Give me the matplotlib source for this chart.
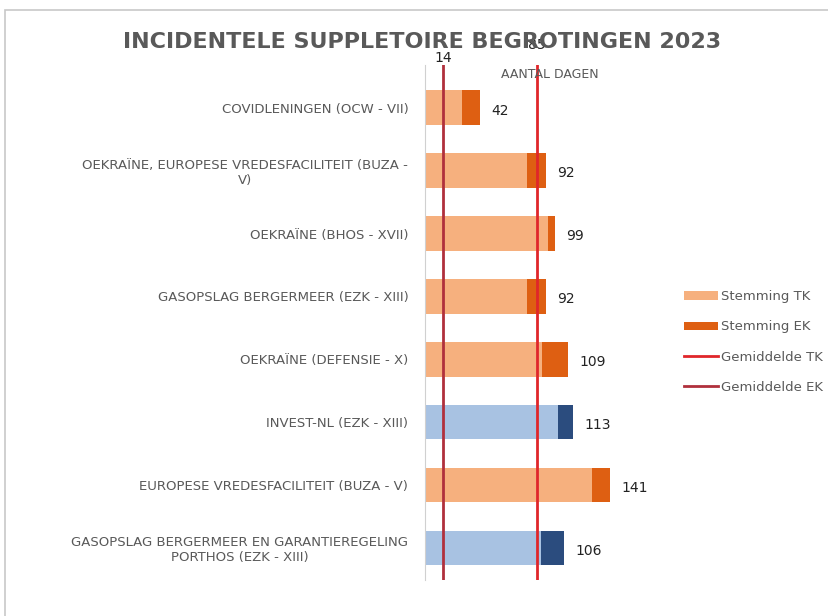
import matplotlib
matplotlib.use("Agg")
import matplotlib.pyplot as plt
from matplotlib.patches import Patch, Rectangle
from matplotlib.lines import Line2D

categories = [
    "COVIDLENINGEN (OCW - VII)",
    "OEKRAÏNE, EUROPESE VREDESFACILITEIT (BUZA -\nV)",
    "OEKRAÏNE (BHOS - XVII)",
    "GASOPSLAG BERGERMEER (EZK - XIII)",
    "OEKRAÏNE (DEFENSIE - X)",
    "INVEST-NL (EZK - XIII)",
    "EUROPESE VREDESFACILITEIT (BUZA - V)",
    "GASOPSLAG BERGERMEER EN GARANTIEREGELING\nPORTHOS (EZK - XIII)",
]
tk_days = [28, 78, 94, 78, 89, 101, 127, 88]
totals = [42, 92, 99, 92, 109, 113, 141, 106]
blue_rows = [False, False, False, False, False, True, False, True]
avg_tk = 85
avg_ek = 14

ek_days = [t - k for t, k in zip(totals, tk_days)]

TK_ORANGE = "#F6B07E"
EK_ORANGE = "#DE5F12"
TK_BLUE = "#A8C2E2"
EK_BLUE = "#2B4C7E"
RED_TK = "#E0262A"
RED_EK = "#B0303C"
GREY = "#595959"

W, H = 829, 616
fig = plt.figure(figsize=(W / 100, H / 100), dpi=100)
# light frame around the chart area, as in the screenshot
fig.patches.append(Rectangle((5 / W, -0.1), 1.2, 1 - 10 / H + 0.1,
                             transform=fig.transFigure, fill=False,
                             edgecolor="#C8C8C8", linewidth=1.2))

ax = fig.add_axes([425 / W, 1 - 580 / H, 235 / W, (580 - 65) / H])
ypos = list(range(len(categories)))
tk_cols = [TK_BLUE if b else TK_ORANGE for b in blue_rows]
ek_cols = [EK_BLUE if b else EK_ORANGE for b in blue_rows]
ax.barh(ypos, tk_days, height=0.55, color=tk_cols)
ax.barh(ypos, ek_days, left=tk_days, height=0.55, color=ek_cols)

for y, t in zip(ypos, totals):
    ax.annotate(str(t), (t, y), xytext=(8, -2), textcoords="offset points",
                va="center", ha="left", fontsize=10, color="#222222")

ax.axvline(avg_tk, color=RED_TK, linewidth=2)
ax.axvline(avg_ek, color=RED_EK, linewidth=2)
ax.text(avg_ek, 1.0, str(avg_ek), transform=ax.get_xaxis_transform(),
        ha="center", va="bottom", fontsize=10, color="#222222")
ax.text(avg_tk, 1.025, str(avg_tk), transform=ax.get_xaxis_transform(),
        ha="center", va="bottom", fontsize=10, color="#222222")

ax.set_xlim(0, 179)
ax.set_ylim(7.51, -0.68)
ax.set_yticks(ypos)
ax.set_yticklabels(categories, fontsize=9.5, color=GREY, multialignment="center")
ax.tick_params(axis="y", length=0, pad=12)
ax.set_xticks([])
for s in ["top", "right", "bottom"]:
    ax.spines[s].set_visible(False)
ax.spines["left"].set_color("#D0D0D0")

fig.text(422 / W, 1 - 42 / H, "INCIDENTELE SUPPLETOIRE BEGROTINGEN 2023",
         ha="center", va="center", fontsize=16, fontweight="bold", color=GREY)
fig.text(550 / W, 1 - 75 / H, "AANTAL DAGEN", ha="center", va="center",
         fontsize=9, color=GREY)

handles = [
    Patch(facecolor=TK_ORANGE, label="Stemming TK"),
    Patch(facecolor=EK_ORANGE, label="Stemming EK"),
    Line2D([], [], color=RED_TK, linewidth=2, label="Gemiddelde TK"),
    Line2D([], [], color=RED_EK, linewidth=2, label="Gemiddelde EK"),
]
leg = fig.legend(handles=handles, loc="center left", bbox_to_anchor=(672 / W, 1 - 342 / H),
                 frameon=False, fontsize=9.5, labelspacing=1.3, handlelength=2.6,
                 handleheight=0.6, handletextpad=0.2)
for t in leg.get_texts():
    t.set_color(GREY)

fig.savefig("out.png", dpi=100)
